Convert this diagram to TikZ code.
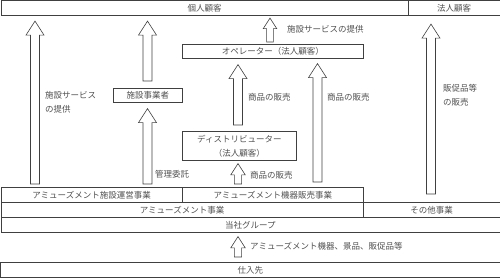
\documentclass[tikz,border=0pt]{standalone}
\usepackage{fontspec}
\newfontfamily\jpfont{Noto Sans CJK JP}
\usetikzlibrary{calc,positioning}
\definecolor{LineGray}{RGB}{64,64,64}
\definecolor{TextGray}{RGB}{80,80,80}
\tikzset{
  box/.style={draw=LineGray,line width=0.6pt,inner sep=0pt,minimum height=15pt,anchor=north west,align=center},
  lbl/.style={anchor=west,inner sep=0pt,align=left},
  barrow/.style={draw=LineGray,line width=0.6pt,fill=white}
}
\newcommand\blockarr[3][1]{%
  \draw[barrow] let \p1=#2, \p2=#3 in
    (\x1-4.5pt*#1,\y1) -- (\x1-4.5pt*#1,\y2-14pt*#1) -- (\x1-9pt*#1,\y2-14pt*#1)
    -- (\x1,\y2) -- (\x1+9pt*#1,\y2-14pt*#1) -- (\x1+4.5pt*#1,\y2-14pt*#1)
    -- (\x1+4.5pt*#1,\y1) -- cycle;}

\begin{document}
\begin{tikzpicture}[x=1pt,y=-1pt,font=\jpfont\fontsize{8.5}{14}\selectfont,text=TextGray]
      \useasboundingbox (0,0) rectangle (500,278);
      \node[box,minimum width=407.5pt] (kojin) at (0.5,0.5) {個人顧客};
      \node[box,minimum width=91.5pt] (houjin) at (408,0.5) {法人顧客};
      \node[box,minimum width=181pt,minimum height=14pt] (operator) at (182,44) {オペレーター（法人顧客）};
      \node[box,minimum width=69pt,minimum height=14pt] (shisetsu) at (113,88) {施設事業者};
      \node[box,minimum width=114pt,minimum height=29pt] (dist) at (182,131) {ディストリビューター\\（法人顧客）};
      \node[box,minimum width=181.5pt] (unei) at (0.5,187) {アミューズメント施設運営事業};
      \node[box,minimum width=181pt] (kiki) at (182,187) {アミューズメント機器販売事業};
      \node[box,minimum width=362.5pt] (amuse) at (0.5,202) {アミューズメント事業};
      \node[box,minimum width=136.5pt] (sonota) at (363,202) {その他事業};
      \node[box,minimum width=499pt] (group) at (0.5,217) {当社グループ};
      \node[box,minimum width=499pt] (shiire) at (0.5,262) {仕入先};
      \coordinate (xa) at (35,0);
      \coordinate (xb) at (147.5,0);
      \coordinate (xc) at (270,0);
      \coordinate (xd) at (238,0);
      \coordinate (xe) at (317.5,0);
      \coordinate (xf) at (431,0);
      \blockarr{($(unei.north -| xa)+(0,-3)$)}{($(kojin.south -| xa)+(0,5)$)}
      \blockarr{($(shisetsu.north -| xb)+(0,-7)$)}{($(kojin.south -| xb)+(0,5)$)}
      \blockarr{($(unei.north -| xb)+(0,-3)$)}{($(shisetsu.south -| xb)+(0,6)$)}
      \blockarr[0.75]{($(operator.north -| xc)+(0,-2)$)}{($(kojin.south -| xc)+(0,2)$)}
      \blockarr{($(dist.north -| xd)+(0,-6)$)}{($(operator.south -| xd)+(0,6)$)}
      \blockarr{($(kiki.north -| xe)+(0,-5)$)}{($(operator.south -| xe)+(0,5)$)}
      \blockarr[0.8]{($(kiki.north -| xd)+(0,-3)$)}{($(dist.south -| xd)+(0,3)$)}
      \blockarr{($(sonota.north -| xf)+(0,-8)$)}{($(houjin.south -| xf)+(0,8)$)}
      \blockarr[0.8]{($(shiire.north -| xd)+(0,-5)$)}{($(group.south -| xd)+(0,4)$)}
      \node[lbl] (svcL) at (45,102) {施設サービス\\の提供};
      \node[lbl] (itaku) at (155,174) {管理委託};
      \node[lbl] (svcT) at (287,29) {施設サービスの提供};
      \node[lbl] (hanbaiA) at (248,97) {商品の販売};
      \node[lbl] (hanbaiB) at (327,97) {商品の販売};
      \node[lbl] (hansoku) at (443,95) {販促品等\\の販売};
      \node[lbl] (hanbaiC) at (250,175) {商品の販売};
      \node[lbl] (shiireL) at (250,246) {アミューズメント機器、景品、販促品等};
    \end{tikzpicture}
\end{document}
